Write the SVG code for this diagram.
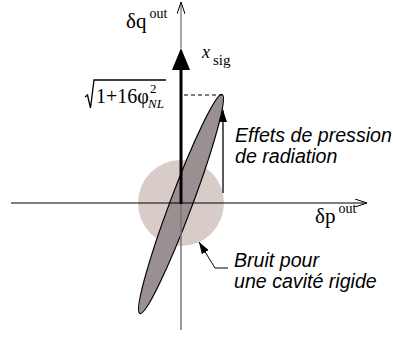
<svg xmlns="http://www.w3.org/2000/svg" width="393" height="337" viewBox="0 0 393 337">
<style>
.serif{font-family:"Liberation Serif","Times New Roman",serif;fill:#000}
.lbl{font-family:"Liberation Sans",Arial,sans-serif;font-style:italic;font-size:19.6px;fill:#000}
.axis{stroke:#000;stroke-width:1.2;fill:none}
</style>
<defs>
<marker id="open" viewBox="0 0 12 8" refX="12" refY="4" markerWidth="12" markerHeight="8" markerUnits="userSpaceOnUse" orient="auto">
<path d="M0,0 L12,4 L0,8" fill="none" stroke="#000" stroke-width="1"/>
</marker>
<marker id="fill" viewBox="0 0 12 8" refX="12" refY="4" markerWidth="12" markerHeight="8" markerUnits="userSpaceOnUse" orient="auto">
<path d="M0,0 L12,4 L0,8 Z" fill="#000"/>
</marker>
</defs>
<g id="noise-circle"><circle cx="181" cy="203" r="43" fill="#d8ccc9"/></g>
<g id="ellipse"><ellipse cx="181" cy="204" rx="117" ry="11" transform="rotate(-69.4 181 204)" fill="#9a9092" stroke="#000" stroke-width="1.2"/></g>
<g id="connectors">
<line x1="181" y1="330" x2="181" y2="203" stroke="#777" stroke-width="1.5"/>
<line x1="181" y1="48" x2="181" y2="2" stroke="#777" stroke-width="1.3" marker-end="url(#open)"/>
<line x1="11" y1="203" x2="367" y2="203" class="axis" marker-end="url(#open)"/>
<line x1="181" y1="204" x2="181" y2="68" stroke="#000" stroke-width="3"/>
<path d="M181,48 L190,70 L172,70 Z" fill="#000"/>
<line x1="184" y1="95" x2="222" y2="95" stroke="#000" stroke-width="1" stroke-dasharray="4,3"/>
<line x1="223" y1="193" x2="223" y2="110" stroke="#000" stroke-width="1.3" marker-end="url(#fill)"/>
<polyline points="228,268 215,268 199,242" fill="none" stroke="#000" stroke-width="1" marker-end="url(#fill)"/>
</g>
<g id="labels">
<text class="serif" x="126" y="28" font-size="21">δq<tspan font-size="14" dy="-10" dx="3">out</tspan></text>
<text class="serif" x="202" y="58" font-size="18" font-style="italic">x</text>
<text class="serif" x="213" y="65" font-size="15">sig</text>
<path d="M85,97 L87.5,95 L90.5,108 L94,80 L166,80" fill="none" stroke="#000" stroke-width="1.3"/>
<text class="serif" x="96" y="103" font-size="20">1+16φ</text>
<text class="serif" x="150" y="93" font-size="13">2</text>
<text class="serif" x="148" y="108" font-size="13" font-style="italic">NL</text>
<text class="serif" x="315" y="223" font-size="21">δp<tspan font-size="14" dy="-10" dx="3">out</tspan></text>
<text class="lbl" x="235" y="142">Effets de pression</text>
<text class="lbl" x="235" y="163">de radiation</text>
<text class="lbl" x="234" y="267">Bruit pour</text>
<text class="lbl" x="234" y="288">une cavité rigide</text>
</g>
</svg>
